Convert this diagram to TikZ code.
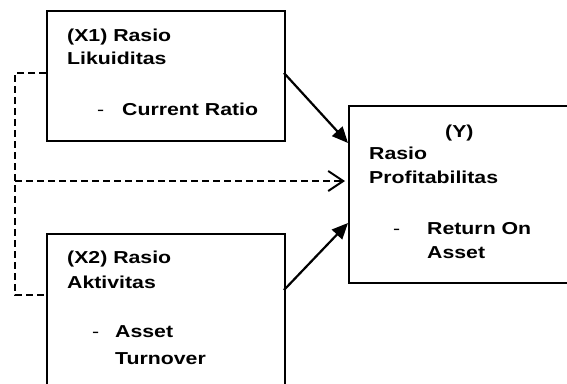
\documentclass[tikz,border=0pt]{standalone}
\usepackage{fontspec}
\setmainfont{Liberation Sans}[FakeStretch=1.23]
\usetikzlibrary{arrows.meta}
\tikzset{
  varbox/.style={draw, line width=2pt, inner sep=0pt, anchor=north west},
  boxtext/.style={anchor=base west, inner sep=0pt, font=\bfseries\fontsize{17.3}{20}\selectfont},
  dashmark/.style={anchor=base west, inner sep=0pt, font=\fontsize{17.3}{20}\selectfont},
  effect/.style={line width=2.2pt, -{Triangle[length=16pt,width=14pt]}},
  joint/.style={line width=1.8pt, dash pattern=on 7pt off 4pt},
}

\begin{document}
\begin{tikzpicture}[x=1pt,y=-1pt]
\useasboundingbox (0,0) rectangle (567,383);
\clip (0,0) rectangle (567,383);
% boxes
\node[varbox, minimum width=238pt, minimum height=130pt] (x1) at (46,10) {};
\node[varbox, minimum width=238pt, minimum height=170pt] (x2) at (46,233) {};
\node[varbox, minimum width=240pt, minimum height=177pt] (y) at (348,105) {};
% texts
\node[boxtext] (x1a) at (67,41) {(X1) Rasio};
\node[boxtext] (x1b) at (67,64) {Likuiditas};
\node[dashmark] (x1c) at (97,115) {-};
\node[boxtext] (x1d) at (122,115) {Current Ratio};
\node[boxtext] (x2a) at (67,263) {(X2) Rasio};
\node[boxtext] (x2b) at (67,288) {Aktivitas};
\node[dashmark] (x2c) at (92,337) {-};
\node[boxtext] (x2d) at (115,337) {Asset};
\node[boxtext] (x2e) at (115,364) {Turnover};
\node[boxtext] (ya) at (445,137) {(Y)};
\node[boxtext] (yb) at (369,159) {Rasio};
\node[boxtext] (yc) at (369,183) {Profitabilitas};
\node[dashmark] (yd) at (393,234) {-};
\node[boxtext] (ye) at (427,234) {Return On};
\node[boxtext] (yf) at (427,258) {Asset};
% connector points
\coordinate (x1out) at (284,73);
\coordinate (x2out) at (284,290);
\coordinate (yin1) at (348,143);
\coordinate (yin2) at (348,223);
\coordinate (yin3) at (345,181);
\coordinate (x1left) at (46,73);
\coordinate (x2left) at (46,295);
\coordinate (corner1) at (15,73);
\coordinate (corner2) at (15,295);
\coordinate (mid) at (15,181);
% arrows
\draw[effect] (x1out) -- (yin1);
\draw[effect] (x2out) -- (yin2);
\draw[joint] (x1left) -- (corner1) -- (corner2) -- (x2left);
\draw[joint, -{Straight Barb[length=15pt,width=20pt,line width=2pt]}] (mid) -- (yin3);
\end{tikzpicture}
\end{document}
